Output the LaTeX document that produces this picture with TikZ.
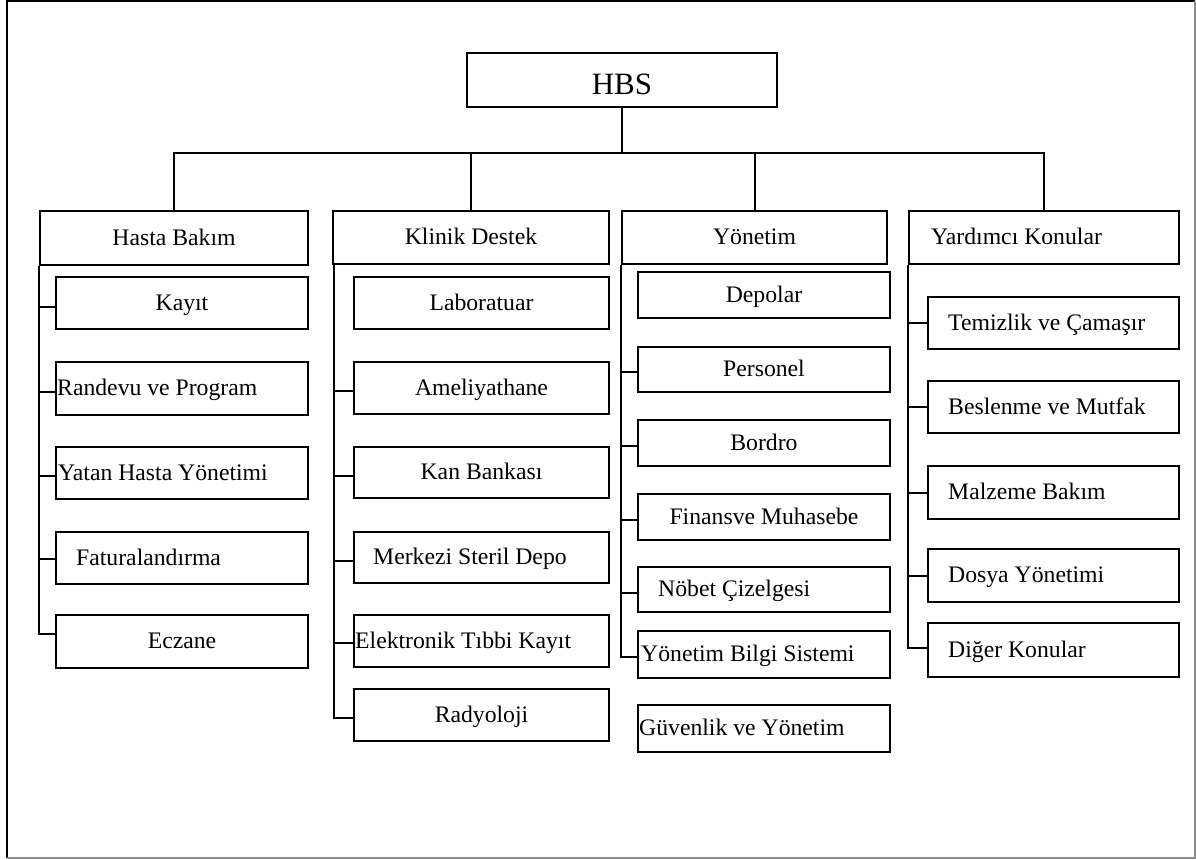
\documentclass[tikz,border=0pt]{standalone}
\usepackage{fontspec}
\setmainfont{Liberation Serif}
\usetikzlibrary{calc}

\tikzset{
  box/.style={draw=black, line width=2pt, rectangle, inner sep=0pt, fill=white},
  txt/.style={inner sep=0pt, font=\fontsize{23.7}{28}\selectfont},
  link/.style={draw=black, line width=2pt},
}

% box from its corners (x1,y1) to (x2,y2), page units with y going down
\newcommand\bx[5]{\node[box, minimum width={#4-#2}, minimum height={#5-#3}] (#1) at ({(#2+#4)/2},{(#3+#5)/2}) {};}
% centred label in a box
\newcommand\ctr[2]{\node[txt, anchor=base, yshift=-7pt] (#1-t) at (#1.center) {#2};}
% label set from the left side of a box, #2 = indent
\newcommand\lft[3]{\node[txt, anchor=base west, yshift=-7pt, xshift=#2] (#1-t) at (#1.west) {#3};}

\begin{document}
\begin{tikzpicture}[x=1pt, y=-1pt]
\useasboundingbox (0,0) rectangle (1196,859);

% page frame
\draw[black, line width=2pt] (7,858) -- (7,1) -- (1195,1);
\draw[black!45, line width=1.5pt] (1195,1) -- (1195,858) -- (7,858);

% root
\bx{hbs}{467}{53}{777}{107}
\node[inner sep=0pt, font=\fontsize{31}{36}\selectfont, anchor=base] (hbs-t) at (622,94) {HBS};

% main groups
\bx{h1}{40}{211}{308}{265}
\bx{h2}{333}{211}{609}{264}
\bx{h3}{622}{211}{887}{264}
\bx{h4}{909}{211}{1179}{264}
\ctr{h1}{Hasta Bakım}
\ctr{h2}{Klinik Destek}
\ctr{h3}{Yönetim}
\lft{h4}{23pt}{Yardımcı Konular}

% tree bus
\coordinate (bus) at (622,153);
\draw[link] (hbs.south) -- (bus);
\draw[link] (h1.north) -- (h1.north |- bus) -- (h4.north |- bus) -- (h4.north);
\draw[link] (h2.north) -- (h2.north |- bus);
\draw[link] (h3.north) -- (h3.north |- bus);

% Hasta Bakım
\bx{a1}{56}{277}{308}{329}
\bx{a2}{56}{362}{308}{415}
\bx{a3}{56}{447}{308}{499}
\bx{a4}{56}{532}{308}{584}
\bx{a5}{56}{615}{308}{668}
\ctr{a1}{Kayıt}
\lft{a2}{2pt}{Randevu ve Program}
\lft{a3}{3pt}{Yatan Hasta Yönetimi}
\lft{a4}{21pt}{Faturalandırma}
\ctr{a5}{Eczane}
\draw[link] ([yshift=-4pt]a1.west) -| (h1.south west);
\draw[link] ([yshift=-3pt]a2.west) -| (h1.south west);
\draw[link] ([yshift=-3pt]a3.west) -| (h1.south west);
\draw[link] ([yshift=-1pt]a4.west) -| (h1.south west);
\draw[link] ([yshift=8pt]a5.west) -| (h1.south west);

% Klinik Destek
\bx{k1}{354}{277}{609}{329}
\bx{k2}{354}{362}{609}{414}
\bx{k3}{354}{447}{609}{498}
\bx{k4}{354}{532}{609}{583}
\bx{k5}{354}{615}{609}{667}
\bx{k6}{354}{689}{609}{741}
\ctr{k1}{Laboratuar}
\ctr{k2}{Ameliyathane}
\ctr{k3}{Kan Bankası}
\lft{k4}{20pt}{Merkezi Steril Depo}
\lft{k5}{2pt}{Elektronik Tıbbi Kayıt}
\ctr{k6}{Radyoloji}
\draw[link] ([yshift=-3pt]k2.west) -| ([xshift=2pt]h2.south west);
\draw[link] ([yshift=-3pt]k3.west) -| ([xshift=2pt]h2.south west);
\draw[link] ([yshift=-3pt]k4.west) -| ([xshift=2pt]h2.south west);
\draw[link] ([yshift=-2pt]k5.west) -| ([xshift=2pt]h2.south west);
\draw[link] ([yshift=-3pt]k6.west) -| ([xshift=2pt]h2.south west);

% Yönetim
\bx{y1}{638}{272}{890}{318}
\bx{y2}{638}{347}{890}{392}
\bx{y3}{638}{420}{890}{466}
\bx{y4}{638}{494}{890}{540}
\bx{y5}{638}{567}{890}{612}
\bx{y6}{638}{631}{890}{678}
\bx{y7}{638}{705}{890}{752}
\ctr{y1}{Depolar}
\ctr{y2}{Personel}
\ctr{y3}{Bordro}
\ctr{y4}{Finansve Muhasebe}
\lft{y5}{21pt}{Nöbet Çizelgesi}
\lft{y6}{4pt}{Yönetim Bilgi Sistemi}
\lft{y7}{2pt}{Güvenlik ve Yönetim}
\draw[link] ([yshift=-2pt]y2.west) -| (h3.south west);
\draw[link] ([yshift=-3pt]y3.west) -| (h3.south west);
\draw[link] ([yshift=-3pt]y4.west) -| (h3.south west);
\draw[link] ([yshift=-3pt]y5.west) -| (h3.south west);
\draw[link] ([yshift=-2pt]y6.west) -| (h3.south west);

% Yardımcı Konular
\bx{d1}{928}{297}{1179}{349}
\bx{d2}{928}{381}{1179}{433}
\bx{d3}{928}{466}{1179}{519}
\bx{d4}{928}{549}{1179}{602}
\bx{d5}{928}{623}{1179}{677}
\lft{d1}{21pt}{Temizlik ve Çamaşır}
\lft{d2}{21pt}{Beslenme ve Mutfak}
\lft{d3}{21pt}{Malzeme Bakım}
\lft{d4}{21pt}{Dosya Yönetimi}
\lft{d5}{21pt}{Diğer Konular}
\draw[link] (d1.west) -| (h4.south west);
\draw[link] (d2.west) -| (h4.south west);
\draw[link] (d3.west) -| (h4.south west);
\draw[link] (d4.west) -| (h4.south west);
\draw[link] ([yshift=2pt]d5.west) -| (h4.south west);
\end{tikzpicture}
\end{document}
